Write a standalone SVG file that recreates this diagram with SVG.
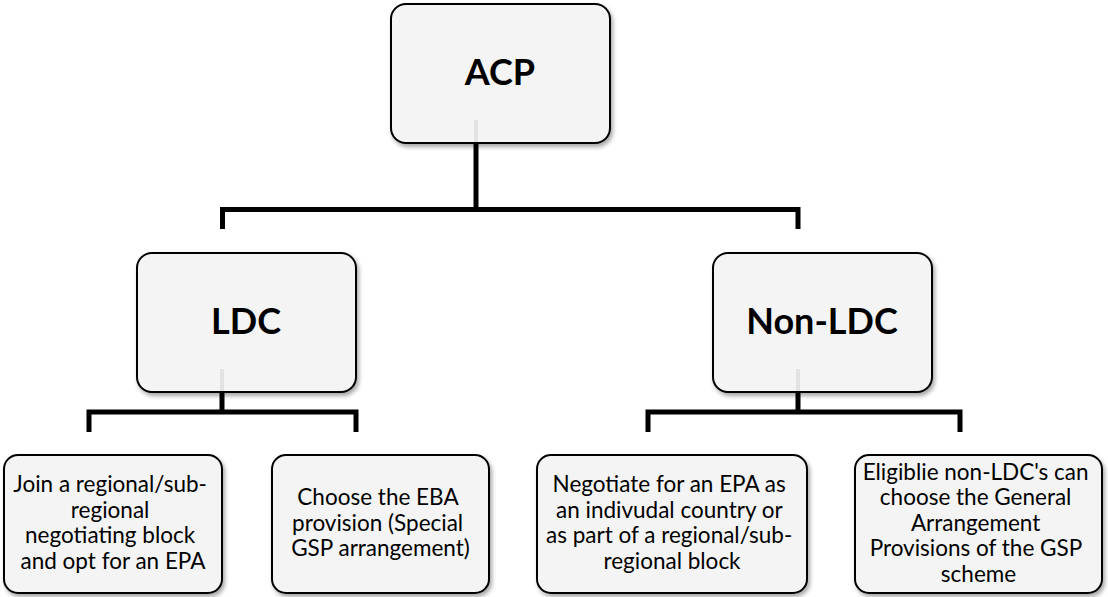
<svg xmlns="http://www.w3.org/2000/svg" width="1108" height="597" viewBox="0 0 1108 597">
  <defs>
    <filter id="sh" x="-10%" y="-10%" width="125%" height="130%">
      <feDropShadow dx="2" dy="3" stdDeviation="2" flood-color="#000" flood-opacity="0.35"/>
    </filter>
  </defs>
  <style>
    .box { fill: #f4f4f4; stroke: #000; stroke-width: 2; filter: url(#sh); }
    .head { font-family: Lato, "Open Sans", "Liberation Sans", sans-serif; font-weight: bold; font-size: 36px; text-anchor: middle; fill: #000; }
    .body { font-family: Lato, "Open Sans", "Liberation Sans", sans-serif; font-size: 22.5px; text-anchor: middle; fill: #000; }
    .conn { fill: none; stroke: #000; stroke-width: 5; stroke-linejoin: miter; stroke-linecap: butt; }
    .stub { stroke: #e2e2e2; stroke-width: 4; }
  </style>

  <g id="connectors">
    <path class="conn" d="M476 143 V209.5"/>
    <path class="conn" d="M222.5 229 V209.5 H798 V229"/>
    <path class="conn" d="M222 392 V412"/>
    <path class="conn" d="M89 432 V412 H356 V432"/>
    <path class="conn" d="M798 392 V412"/>
    <path class="conn" d="M648 432 V412 H960 V432"/>
  </g>

  <g id="node-acp">
    <rect class="box" x="391" y="4" width="219" height="139" rx="15"/>
    <line class="stub" x1="476" y1="120" x2="476" y2="142"/>
    <text class="head" x="500" y="85">ACP</text>
  </g>

  <g id="node-ldc">
    <rect class="box" x="137" y="253" width="219" height="139" rx="15"/>
    <line class="stub" x1="222" y1="369" x2="222" y2="391"/>
    <text class="head" x="246" y="334">LDC</text>
  </g>

  <g id="node-nonldc">
    <rect class="box" x="713" y="253" width="219" height="139" rx="15"/>
    <line class="stub" x1="798" y1="369" x2="798" y2="391"/>
    <text class="head" x="822" y="334">Non-LDC</text>
  </g>

  <g id="node-join">
    <rect class="box" x="4" y="455" width="218" height="138" rx="14"/>
    <text class="body" x="113">
      <tspan x="113" y="492">Join a regional/sub-</tspan>
      <tspan x="113" y="517.5">regional</tspan>
      <tspan x="113" y="543">negotiating block</tspan>
      <tspan x="113" y="568.5">and opt for an EPA</tspan>
    </text>
  </g>

  <g id="node-eba">
    <rect class="box" x="272" y="455" width="217" height="138" rx="14"/>
    <text class="body" x="380.5">
      <tspan x="380.5" y="505">Choose the EBA</tspan>
      <tspan x="380.5" y="530.5">provision (Special</tspan>
      <tspan x="380.5" y="556">GSP arrangement)</tspan>
    </text>
  </g>

  <g id="node-negotiate">
    <rect class="box" x="537" y="455" width="270" height="138" rx="14"/>
    <text class="body" x="672">
      <tspan x="672" y="492">Negotiate for an EPA as</tspan>
      <tspan x="672" y="517.5">an indivudal country or</tspan>
      <tspan x="672" y="543">as part of a regional/sub-</tspan>
      <tspan x="672" y="568.5">regional block</tspan>
    </text>
  </g>

  <g id="node-eligible">
    <rect class="box" x="855" y="455" width="247" height="138" rx="14"/>
    <text class="body" x="978.5">
      <tspan x="978.5" y="479.5">Eligiblie non-LDC's can</tspan>
      <tspan x="978.5" y="505">choose the General</tspan>
      <tspan x="978.5" y="530.5">Arrangement</tspan>
      <tspan x="978.5" y="556">Provisions of the GSP</tspan>
      <tspan x="978.5" y="581.5">scheme</tspan>
    </text>
  </g>
</svg>
